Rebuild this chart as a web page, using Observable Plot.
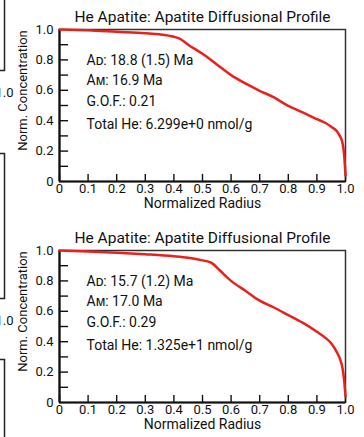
<!DOCTYPE html>
<html><head><meta charset="utf-8">
<script src="https://cdn.jsdelivr.net/npm/d3@7"></script>
<script src="https://cdn.jsdelivr.net/npm/@observablehq/plot@0.6"></script>
<style>
body{margin:0;background:#fff;width:364px;height:437px;overflow:hidden;position:relative;}
.panel{position:absolute;left:0;}
.nb{position:absolute;left:-341px;}
</style></head><body>
<div id="n1" class="nb" style="top:-104px"></div>
<div id="n2" class="nb" style="top:124px"></div>
<div id="n3" class="nb" style="top:330px"></div>
<div id="p1" class="panel" style="top:0"></div>
<div id="p2" class="panel" style="top:221px"></div>
<script>
// Panel 1 profile
const radius1 = [0, 0.1, 0.2, 0.3, 0.35, 0.4, 0.42, 0.45, 0.5, 0.55, 0.6, 0.65, 0.7, 0.75, 0.8, 0.85, 0.9, 0.93, 0.95, 0.97, 0.98, 0.99, 0.995, 1.0];
const conc1   = [1.0, 0.995, 0.985, 0.975, 0.968, 0.952, 0.94, 0.9, 0.84, 0.77, 0.70, 0.645, 0.597, 0.553, 0.497, 0.455, 0.41, 0.385, 0.36, 0.33, 0.30, 0.25, 0.18, 0.04];
// Panel 2 profile
const radius2 = [0, 0.1, 0.2, 0.3, 0.4, 0.45, 0.5, 0.53, 0.56, 0.6, 0.65, 0.7, 0.75, 0.8, 0.85, 0.9, 0.93, 0.95, 0.97, 0.98, 0.99, 0.995, 1.0];
const conc2   = [1.0, 0.993, 0.985, 0.975, 0.962, 0.952, 0.935, 0.92, 0.87, 0.80, 0.735, 0.67, 0.625, 0.575, 0.525, 0.465, 0.425, 0.39, 0.33, 0.29, 0.22, 0.15, 0.04];

const xTicks = [0, 0.1, 0.2, 0.3, 0.4, 0.5, 0.6, 0.7, 0.8, 0.9, 1.0];
const yTicks = [0.1, 0.2, 0.3, 0.4, 0.5, 0.6, 0.7, 0.8, 0.9];
const yLabelTicks = [0, 0.2, 0.4, 0.6, 0.8, 1.0];
const neighbourTicks = [1.0];
const titleText = "He Apatite: Apatite Diffusional Profile";
const xLabel = "Normalized Radius";
const yLabel = "Norm. Concentration";
const stats1 = ["A\u1D05: 18.8 (1.5) Ma", "A\u1D0D: 16.9 Ma", "G.O.F.: 0.21", "Total He: 6.299e+0 nmol/g"];
const stats2 = ["A\u1D05: 15.7 (1.2) Ma", "A\u1D0D: 17.0 Ma", "G.O.F.: 0.29", "Total He: 1.325e+1 nmol/g"];

const font = 'Roboto,"Liberation Sans",sans-serif';
const fmt = d => d === 0 ? "0" : d.toFixed(1);
const statOffsets = [31, 51, 72, 95];

function panel(radius, conc, stats, height, marginBottom) {
  const data = radius.map((r, i) => ({r, c: conc[i]}));
  return Plot.plot({
    width: 364, height, marginTop: 29, marginBottom, marginLeft: 59, marginRight: 19,
    style: {fontFamily: font, fontSize: "13px", color: "#111", background: "transparent"},
    x: {domain: [0, 1]},
    y: {domain: [0, 1]},
    marks: [
      Plot.frame({stroke: "#333", strokeWidth: 1.5}),
      Plot.link(xTicks, {x1: d => d, x2: d => d, y1: 0, y2: 0.05, stroke: "#111", strokeWidth: 1.4}),
      Plot.link(yTicks, {y1: d => d, y2: d => d, x1: 0, x2: 0.03, stroke: "#111", strokeWidth: 1.4}),
      Plot.ruleX([0], {stroke: "#111", strokeWidth: 2.2}),
      Plot.ruleY([0], {stroke: "#111", strokeWidth: 2.2}),
      Plot.axisX(xTicks, {tickSize: 0, tickPadding: 2, tickFormat: fmt, label: null, fontSize: 13}),
      Plot.axisY(yLabelTicks, {tickSize: 0, tickPadding: 6, tickFormat: fmt, label: null, fontSize: 13}),
      Plot.text([titleText], {frameAnchor: "top", dy: -8, lineAnchor: "bottom", fontSize: 15.5, fill: "#111"}),
      Plot.text([xLabel], {frameAnchor: "bottom", dy: 26, lineAnchor: "bottom", fontSize: 14, fill: "#111"}),
      Plot.text([yLabel], {frameAnchor: "left", dx: -37, dy: -15, rotate: -90, textAnchor: "middle", fontSize: 13, fill: "#111"}),
      Plot.line(data, {x: "r", y: "c", stroke: "#e8211b", strokeWidth: 2.5, curve: "monotone-x"}),
      ...stats.map((s, i) => Plot.text([s], {frameAnchor: "top-left", dx: 27, dy: statOffsets[i], textAnchor: "start", lineAnchor: "middle", fontSize: 14, fill: "#111"}))
    ]
  });
}

// partially visible neighbouring panels (only their right edge shows at the left border)
function neighbour(height, ticks) {
  return Plot.plot({
    width: 364, height, marginTop: 29, marginBottom: height - 29 - 145, marginLeft: 59, marginRight: 19,
    style: {fontFamily: font, fontSize: "13px", color: "#111", background: "transparent"},
    x: {domain: [0, 1], axis: null},
    y: {domain: [0, 1], axis: null},
    marks: [
      Plot.frame({stroke: "#222", strokeWidth: 1.5}),
      ticks.length ? Plot.axisX(ticks, {tickSize: 0, tickPadding: 17, tickFormat: fmt, label: null, fontSize: 13}) : null
    ]
  });
}

document.getElementById("n1").append(neighbour(214, neighbourTicks));
document.getElementById("n2").append(neighbour(214, neighbourTicks));
document.getElementById("n3").append(neighbour(107, []));
document.getElementById("p1").append(panel(radius1, conc1, stats1, 221, 40));
document.getElementById("p2").append(panel(radius2, conc2, stats2, 216, 35));
</script>
</body></html>
